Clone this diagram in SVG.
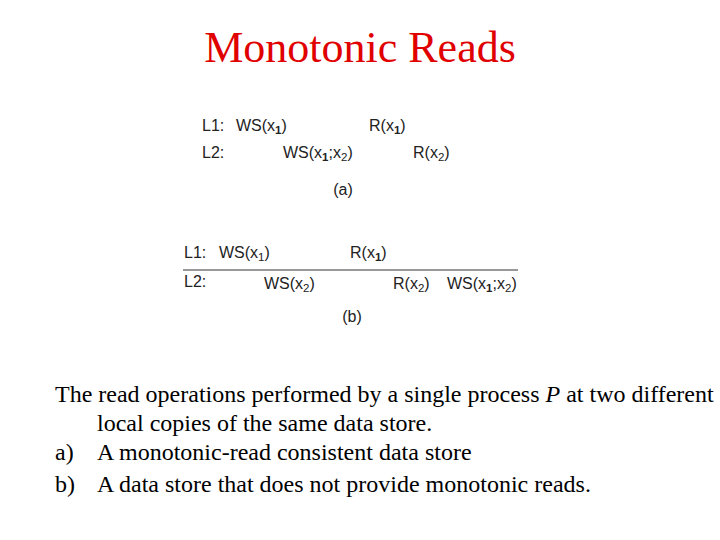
<svg xmlns="http://www.w3.org/2000/svg" width="720" height="540" viewBox="0 0 720 540">
<style>
.t{font-family:"Liberation Serif","Times New Roman",serif;}
.d{font-family:"Liberation Sans",Arial,sans-serif;font-size:16px;fill:#222;}
.s{font-size:11.5px;}
.b{font-weight:bold;}
.c{font-family:"Liberation Serif","Times New Roman",serif;font-size:24px;fill:#000;}
</style>
<rect width="720" height="540" fill="#fff"/>
<text class="t" x="360" y="62" text-anchor="middle" font-size="44" fill="#e00000">Monotonic Reads</text>
<g id="diagram-a">
<text class="d" x="202" y="131">L1:</text>
<text class="d" x="236" y="131">WS(x<tspan class="s b" dy="3">1</tspan><tspan dy="-3">)</tspan></text>
<text class="d" x="369" y="131">R(x<tspan class="s b" dy="3">1</tspan><tspan dy="-3">)</tspan></text>
<text class="d" x="202" y="158">L2:</text>
<text class="d" x="283" y="158">WS(x<tspan class="s b" dy="3">1</tspan><tspan dy="-3">;x</tspan><tspan class="s" dy="3">2</tspan><tspan dy="-3">)</tspan></text>
<text class="d" x="413" y="158">R(x<tspan class="s" dy="3">2</tspan><tspan dy="-3">)</tspan></text>
<text class="d" x="343" y="195" text-anchor="middle">(a)</text>
</g>
<g id="diagram-b">
<text class="d" x="184" y="258">L1:</text>
<text class="d" x="219" y="258">WS(x<tspan class="s" dy="3">1</tspan><tspan dy="-3">)</tspan></text>
<text class="d" x="350" y="258">R(x<tspan class="s b" dy="3">1</tspan><tspan dy="-3">)</tspan></text>
<text class="d" x="184" y="287">L2:</text>
<text class="d" x="264" y="289">WS(x<tspan class="s" dy="3">2</tspan><tspan dy="-3">)</tspan></text>
<text class="d" x="393" y="289">R(x<tspan class="s" dy="3">2</tspan><tspan dy="-3">)</tspan></text>
<text class="d" x="447" y="289">WS(x<tspan class="s b" dy="3">1</tspan><tspan dy="-3">;x</tspan><tspan class="s" dy="3">2</tspan><tspan dy="-3">)</tspan></text>
<text class="d" x="352" y="322" text-anchor="middle">(b)</text>
</g>
<g id="connectors">
<line x1="183" y1="270" x2="518" y2="270" stroke="#333" stroke-width="1"/>
</g>
<g id="caption">
<text class="c" x="55" y="402">The read operations performed by a single process <tspan font-style="italic">P</tspan> at two different</text>
<text class="c" x="97" y="431">local copies of the same data store.</text>
<text class="c" x="55" y="460" fill="#1a1a8c">a)</text>
<text class="c" x="97" y="460">A monotonic-read consistent data store</text>
<text class="c" x="55" y="492" fill="#1a1a8c">b)</text>
<text class="c" x="97" y="492">A data store that does not provide monotonic reads.</text>
</g>
</svg>
